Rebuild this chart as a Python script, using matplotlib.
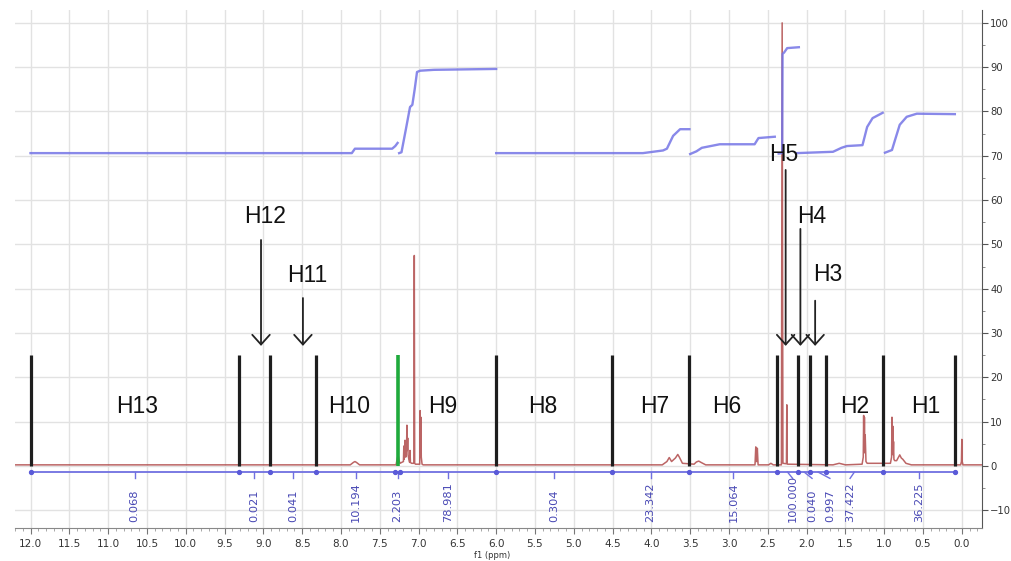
import matplotlib
matplotlib.use("Agg")
import matplotlib.pyplot as plt
from matplotlib.ticker import MultipleLocator

# ---- 1H NMR spectrum: (ppm, intensity) vertices of the trace ----
spec_ppm = [12.2, 7.88, 7.84, 7.82, 7.80, 7.76,
            7.29, 7.28, 7.27, 7.26, 7.25, 7.24,
            7.195, 7.19, 7.185, 7.18, 7.175, 7.165, 7.155, 7.15, 7.145, 7.14, 7.135, 7.125,
            7.115, 7.11, 7.105, 7.09, 7.06, 7.055, 7.05, 7.04,
            6.985, 6.98, 6.975, 6.97, 6.965, 6.955, 6.94,
            3.86, 3.80, 3.77, 3.74, 3.69, 3.66, 3.64, 3.60,
            3.45, 3.42, 3.39, 3.36, 3.30,
            2.665, 2.655, 2.65, 2.645, 2.64, 2.635, 2.625,
            2.49, 2.46, 2.43,
            2.325, 2.315, 2.305, 2.26, 2.255, 2.25, 2.245,
            1.66, 1.58, 1.50,
            1.285, 1.27, 1.265, 1.26, 1.255, 1.25, 1.245, 1.235, 1.22,
            0.92, 0.905, 0.90, 0.895, 0.89, 0.885, 0.88, 0.875, 0.865,
            0.84, 0.80, 0.78, 0.76, 0.72, 0.65,
            0.015, 0.005, 0.0, -0.005, -0.015, -0.26]
spec_int = [0.25, 0.25, 0.8, 1.0, 0.8, 0.25,
            0.25, 1.2, 2.0, 2.2, 1.2, 0.6,
            1.0, 4.5, 1.5, 3.0, 5.8, 2.0, 4.0, 9.2, 3.5, 6.3, 2.5, 1.5,
            0.8, 3.5, 0.8, 0.6, 0.6, 47.5, 0.6, 0.4,
            0.4, 12.5, 3.0, 11.0, 2.0, 0.4, 0.25,
            0.25, 1.0, 1.9, 1.0, 1.8, 2.6, 2.0, 0.6,
            0.4, 0.9, 1.1, 0.8, 0.25,
            0.25, 4.3, 1.0, 4.0, 1.0, 4.0, 0.25,
            0.25, 0.6, 0.25,
            0.25, 100.0, 0.6, 0.5, 13.8, 0.6, 0.4,
            0.25, 0.6, 0.25,
            0.4, 2.0, 11.4, 3.0, 11.0, 3.0, 7.0, 1.0, 0.6,
            0.6, 2.0, 11.0, 3.0, 9.0, 2.5, 5.5, 1.5, 1.2,
            1.2, 2.5, 1.8, 1.5, 0.6, 0.25,
            0.25, 1.0, 6.0, 1.0, 0.25, 0.25]

# ---- integral curves, one list of (ppm, value) per segment ----
integral_segments = [
    [(12.0, 70.6), (7.86, 70.6), (7.82, 71.6), (7.34, 71.6), (7.30, 72.2), (7.27, 72.9)],
    [(7.25, 70.6), (7.22, 70.8), (7.16, 76.3), (7.11, 81.0), (7.08, 81.5), (7.05, 85.0),
     (7.02, 88.9), (6.98, 89.2), (6.80, 89.4), (6.00, 89.6)],
    [(6.00, 70.6), (4.11, 70.6), (3.85, 71.2), (3.80, 71.6), (3.72, 74.5), (3.63, 76.0),
     (3.51, 76.0)],
    [(3.50, 70.4), (3.42, 71.0), (3.35, 71.8), (3.12, 72.6), (2.67, 72.6), (2.62, 74.0),
     (2.41, 74.3)],
    [(2.36, 70.5), (2.315, 70.6), (2.31, 93.0), (2.29, 93.3), (2.25, 94.3), (2.10, 94.5)],
    [(2.13, 70.6), (1.66, 70.9), (1.55, 71.8), (1.48, 72.2), (1.28, 72.4), (1.22, 76.5),
     (1.15, 78.5), (1.02, 79.7)],
    [(0.99, 70.7), (0.90, 71.3), (0.86, 73.6), (0.80, 77.0), (0.71, 78.8), (0.58, 79.5),
     (0.09, 79.4)],
]

# ---- integration regions and their values ----
region_edges = [12.0, 9.32, 8.92, 8.32, 7.30, 7.24, 6.00, 4.51, 3.51, 2.38, 2.11, 1.95, 1.75, 1.02, 0.09]
region_values = ["0.068", "0.021", "0.041", "10.194", "2.203", "78.981", "0.304",
                 "23.342", "15.064", "100.000", "0.040", "0.997", "37.422", "36.225"]

# ---- assignment markers ----
bar_ppm = [12.0, 9.32, 8.92, 8.32, 6.00, 4.51, 3.51, 2.38, 2.11, 1.95, 1.75, 1.02, 0.09]
bar_height = 25
solvent_ppm = 7.26

group_labels = ["H13", "H10", "H9", "H8", "H7", "H6", "H2", "H1"]
group_ppm = [10.63, 7.89, 6.69, 5.40, 3.96, 3.03, 1.38, 0.47]

arrow_labels = ["H12", "H11", "H5", "H4", "H3"]
arrow_ppm = [9.03, 8.49, 2.27, 2.08, 1.89]
arrow_top = [51.0, 37.9, 66.8, 53.5, 37.3]
arrow_label_ppm = [8.98, 8.44, 2.29, 1.93, 1.73]
arrow_label_y = [56.2, 42.9, 70.2, 56.4, 43.1]

x_ticks = [12.0, 11.5, 11.0, 10.5, 10.0, 9.5, 9.0, 8.5, 8.0, 7.5, 7.0, 6.5, 6.0,
           5.5, 5.0, 4.5, 4.0, 3.5, 3.0, 2.5, 2.0, 1.5, 1.0, 0.5, 0.0]
y_ticks = [-10, 0, 10, 20, 30, 40, 50, 60, 70, 80, 90, 100]

W, H = 1012, 561
fig = plt.figure(figsize=(W / 100, H / 100), dpi=100)
ax = fig.add_axes([15 / W, 1 - 528 / H, (982 - 15) / W, (528 - 10) / H])
ax.set_xlim(12.20, -0.26)
ax.set_ylim(-14.0, 102.9)

# grid
for xv in x_ticks:
    ax.axvline(xv, color="#e2e2e2", lw=1.0, zorder=0)
for yv in y_ticks:
    ax.axhline(yv, color="#e2e2e2", lw=1.0, zorder=0)

# spectrum trace
ax.plot(spec_ppm, spec_int, color="#b04a4a", lw=1.1, alpha=0.85, zorder=3)

# integral curves
for seg in integral_segments:
    xs = [p for p, _ in seg]
    ys = [v for _, v in seg]
    ax.plot(xs, ys, color="#7474e6", lw=1.7, alpha=0.85, zorder=4)

# integration baseline with region marks
int_y = -1.4
ax.plot([region_edges[0], region_edges[-1]], [int_y, int_y], color="#7070e0", lw=1.3, zorder=4)
ax.plot(region_edges, [int_y] * len(region_edges), "o", color="#5a5ad8", ms=2.8, zorder=5)
# crowded labels around 2 ppm are spread apart and joined by short leaders
label_shift = {9: -0.065, 10: -0.10, 11: -0.15, 12: 0.055}
for i, val in enumerate(region_values):
    mid = 0.5 * (region_edges[i] + region_edges[i + 1])
    lx = mid + label_shift.get(i, 0.0)
    ax.plot([mid, lx], [int_y, int_y - 1.4], color="#7070e0", lw=1.0, zorder=4)
    ax.text(lx, -12.7, val, rotation=90, ha="center", va="bottom",
            color="#4848b4", fontsize=8.2, zorder=6)

# region separators
ax.vlines(bar_ppm, 0, bar_height, colors="#1e1e1e", lw=2.3, zorder=5)
ax.vlines([solvent_ppm], 0, bar_height, colors="#1faa3c", lw=2.6, zorder=5)

# group labels
lab_font = dict(family="Liberation Sans", fontsize=16.5, color="#111111")
for name, p in zip(group_labels, group_ppm):
    ax.text(p, 13.5, name, ha="center", va="center", zorder=7, **lab_font)

# arrowed labels
for name, p, top, lp, ly in zip(arrow_labels, arrow_ppm, arrow_top, arrow_label_ppm, arrow_label_y):
    ax.annotate("", xy=(p, 27.1), xytext=(p, top),
                arrowprops=dict(arrowstyle="->,head_length=0.5,head_width=0.45",
                                color="#222222", lw=1.3, mutation_scale=14,
                                shrinkA=0, shrinkB=0), zorder=7)
    ax.text(lp, ly, name, ha="center", va="center", zorder=7, **lab_font)

# axes styling
for side in ("left", "top"):
    ax.spines[side].set_visible(False)
ax.spines["right"].set_color("#555555")
ax.spines["bottom"].set_color("#888888")
ax.yaxis.tick_right()
ax.set_yticks(y_ticks)
ax.yaxis.set_minor_locator(MultipleLocator(5))
ax.set_xticks(x_ticks)
ax.set_xticklabels([f"{t:.1f}" for t in x_ticks])
ax.xaxis.set_minor_locator(MultipleLocator(0.1))
ax.tick_params(axis="x", which="major", length=4, color="#777777", labelsize=7.5,
               labelcolor="#333333", pad=4)
ax.tick_params(axis="x", which="minor", length=2, color="#999999")
ax.tick_params(axis="y", which="major", length=4, color="#555555", labelsize=7.2,
               labelcolor="#333333", pad=2)
ax.tick_params(axis="y", which="minor", length=2, color="#777777")

fig.text(492 / W, 1 - 555 / H, "f1 (ppm)", ha="center", va="center", fontsize=6.0, color="#333333")

fig.savefig("out.png", dpi=100)
